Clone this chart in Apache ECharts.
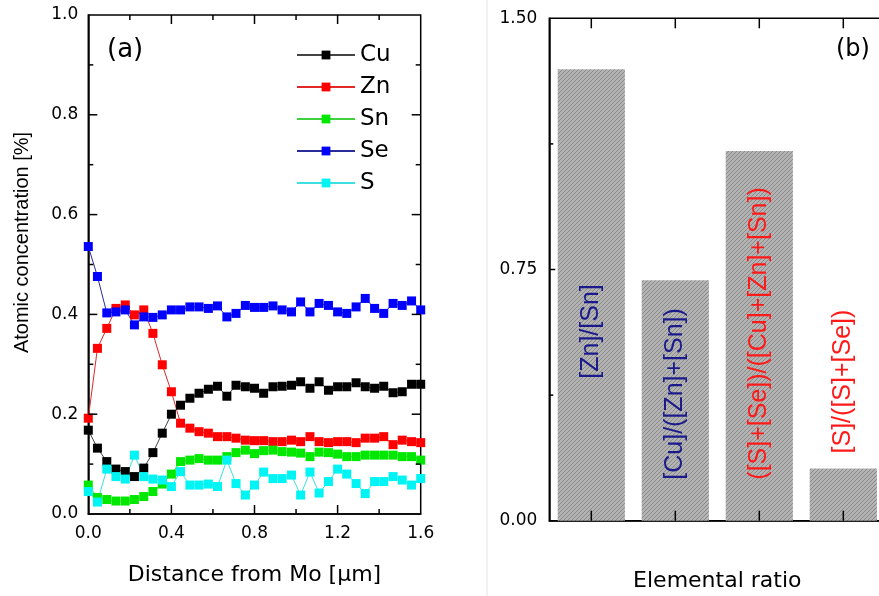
<!DOCTYPE html>
<html><head><meta charset="utf-8">
<script src="https://cdn.jsdelivr.net/npm/echarts@6/dist/echarts.min.js"></script>
<style>html,body{margin:0;padding:0;background:#fff}#c{width:879px;height:596px}</style>
</head><body><div id="c"></div>
<script>
// ---- data (panel a) ----
const distance = [0, 0.044, 0.089, 0.133, 0.178, 0.222, 0.267, 0.311, 0.356, 0.4, 0.444, 0.489, 0.533, 0.578, 0.622, 0.667, 0.711, 0.756, 0.8, 0.844, 0.889, 0.933, 0.978, 1.022, 1.067, 1.111, 1.156, 1.2, 1.244, 1.289, 1.333, 1.378, 1.422, 1.467, 1.511, 1.556, 1.6];
const cu = [0.168, 0.132, 0.105, 0.090, 0.085, 0.075, 0.092, 0.123, 0.162, 0.200, 0.218, 0.232, 0.242, 0.250, 0.256, 0.236, 0.258, 0.255, 0.252, 0.242, 0.255, 0.256, 0.258, 0.265, 0.252, 0.265, 0.248, 0.255, 0.255, 0.263, 0.255, 0.252, 0.256, 0.243, 0.245, 0.260, 0.260];
const zn = [0.192, 0.332, 0.372, 0.412, 0.419, 0.399, 0.409, 0.362, 0.299, 0.245, 0.182, 0.172, 0.165, 0.162, 0.155, 0.155, 0.152, 0.148, 0.147, 0.147, 0.145, 0.145, 0.148, 0.145, 0.155, 0.145, 0.143, 0.145, 0.145, 0.143, 0.152, 0.152, 0.155, 0.139, 0.148, 0.145, 0.143];
const sn = [0.058, 0.033, 0.029, 0.026, 0.026, 0.029, 0.035, 0.045, 0.060, 0.080, 0.105, 0.108, 0.111, 0.108, 0.108, 0.115, 0.123, 0.128, 0.121, 0.127, 0.128, 0.125, 0.124, 0.122, 0.115, 0.124, 0.123, 0.120, 0.115, 0.115, 0.118, 0.118, 0.118, 0.118, 0.115, 0.115, 0.108];
const se = [0.536, 0.476, 0.403, 0.405, 0.409, 0.379, 0.395, 0.394, 0.399, 0.409, 0.409, 0.415, 0.415, 0.412, 0.417, 0.395, 0.402, 0.418, 0.414, 0.414, 0.417, 0.409, 0.405, 0.425, 0.405, 0.422, 0.418, 0.405, 0.402, 0.415, 0.432, 0.412, 0.402, 0.422, 0.418, 0.427, 0.409];
const s = [0.045, 0.024, 0.090, 0.075, 0.070, 0.118, 0.075, 0.070, 0.068, 0.055, 0.085, 0.058, 0.058, 0.060, 0.055, 0.108, 0.061, 0.038, 0.058, 0.084, 0.071, 0.071, 0.078, 0.038, 0.084, 0.042, 0.065, 0.090, 0.080, 0.061, 0.041, 0.065, 0.065, 0.075, 0.068, 0.058, 0.071];
const seriesNames = ['Cu', 'Zn', 'Sn', 'Se', 'S'];
// tick values, panel a
const xMajorA = [0.4, 0.8, 1.2];
const xMinorA = [0.2, 0.6, 1.0, 1.4];
const yMajorA = [0.2, 0.4, 0.6, 0.8];
const yMinorA = [0.1, 0.3, 0.5, 0.7, 0.9];
// ---- data (panel b) ----
const ratioNames = ['[Zn]/[Sn]', '[Cu]/([Zn]+[Sn])', '([S]+[Se])/([Cu]+[Zn]+[Sn])', '[S]/([S]+[Se])'];
const ratioValues = [1.348, 0.718, 1.104, 0.156];
// tick values, panel b
const yMajorB = [0.75];
const yMinorB = [0.375, 1.125];

// ---- styles ----
const H = "'DejaVu Sans', sans-serif";
const V = "'Liberation Sans', Arial, sans-serif";
const markerColors = ['#000000', '#ff0000', '#00e800', '#0000ff', '#00f4f4'];
const lineColors = ['#444444', '#e02a2a', '#3fd03f', '#2b2b9a', '#3ee0e0'];
const ratioLabelColors = ['#1a1a8a', '#1a1a8a', '#ff1a1a', '#ff1a1a'];
const ratioLabelPos = [['insideBottom', 142], ['insideBottom', 41], ['insideBottom', 41], ['top', 15]];

const pat = document.createElement('canvas');
pat.width = 8; pat.height = 8;
const g = pat.getContext('2d');
g.fillStyle = '#b3b3b3'; g.fillRect(0, 0, 8, 8);
g.strokeStyle = '#8a8a8a'; g.lineWidth = 1;
for (let k = -8; k <= 16; k += 4) { g.beginPath(); g.moveTo(k, 8); g.lineTo(k + 8, 0); g.stroke(); }

function mkLine() { return { show: true, onZero: false, lineStyle: { color: '#000', width: 1.5 } }; }

function valueAxis(gridIndex, position, min, max, interval, digits, margin) {
  return {
    type: 'value', gridIndex, position, min, max, interval,
    axisLine: mkLine(), splitLine: { show: false },
    axisTick: { show: false }, minorTick: { show: false },
    axisLabel: { show: true, fontFamily: H, fontSize: 17, color: '#000', margin,
      formatter: v => v.toFixed(digits) }
  };
}

const xA = valueAxis(0, 'bottom', 0, 1.6, 0.4, 1, 11);
Object.assign(xA, { name: 'Distance from Mo [μm]', nameLocation: 'middle', nameGap: 50,
  nameTextStyle: { fontFamily: H, fontSize: 22, color: '#000' } });
const yA = valueAxis(0, 'left', 0, 1, 0.2, 1, 10);
Object.assign(yA, { name: 'Atomic concentration [%]', nameLocation: 'middle', nameGap: 56,
  nameTextStyle: { fontFamily: V, fontSize: 20, color: '#000', padding: [0, 0, 0, 44] } });
const yB = valueAxis(1, 'left', 0, 1.5, 0.75, 2, 12);
const xB = {
  type: 'category', gridIndex: 1, position: 'bottom', data: ratioNames,
  axisLine: mkLine(), splitLine: { show: false },
  axisTick: { show: false }, axisLabel: { show: false },
  name: 'Elemental ratio', nameLocation: 'middle', nameGap: 50,
  nameTextStyle: { fontFamily: H, fontSize: 22, color: '#000' }
};

const TICK = { stroke: '#000', lineWidth: 1.5 };
function seg(p, dx, dy) {
  return { type: 'line', shape: { x1: p[0], y1: p[1], x2: p[0] + dx, y2: p[1] + dy }, style: TICK };
}
// inward ticks drawn through the axes' own scales
function ticksA(params, api) {
  const ch = [];
  const xs = [[xMajorA, 9], [xMinorA, 5]], ys = [[yMajorA, 9], [yMinorA, 5]];
  xs.forEach(([vals, len]) => vals.forEach(v => {
    ch.push(seg(api.coord([v, 0]), 0, -len));
    ch.push(seg(api.coord([v, 1]), 0, len));
  }));
  ys.forEach(([vals, len]) => vals.forEach(v => {
    ch.push(seg(api.coord([0, v]), len, 0));
    ch.push(seg(api.coord([1.6, v]), -len, 0));
  }));
  return { type: 'group', children: ch };
}
function ticksB(params, api) {
  const ch = [];
  ratioNames.forEach((n, i) => {
    ch.push(seg(api.coord([i, 0]), 0, -10));
    ch.push(seg(api.coord([i, 1.5]), 0, 10));
  });
  [[yMajorB, 6], [yMinorB, 4]].forEach(([vals, len]) => vals.forEach(v => {
    const l = api.coord([0, v]);
    const left = l[0] - api.size([1, 0])[0] / 2;
    ch.push(seg([left, l[1]], len, 0));
    ch.push(seg([left + api.size([1, 0])[0] * ratioNames.length, l[1]], -len, 0));
  }));
  return { type: 'group', children: ch };
}

const lineData = [cu, zn, sn, se, s];
const series = lineData.map((vals, k) => ({
  name: seriesNames[k], type: 'line', xAxisIndex: 0, yAxisIndex: 0,
  data: distance.map((x, i) => [x, vals[i]]),
  symbol: 'rect', symbolSize: 9, showSymbol: true,
  itemStyle: { color: markerColors[k] },
  lineStyle: { color: lineColors[k], width: 1 },
  emphasis: { disabled: true }
}));
series.push({
  type: 'bar', xAxisIndex: 1, yAxisIndex: 1, barWidth: '80%',
  data: ratioValues.map((v, i) => ({
    value: v,
    label: { position: ratioLabelPos[i][0], distance: ratioLabelPos[i][1], color: ratioLabelColors[i] }
  })),
  itemStyle: { color: { image: pat, repeat: 'repeat' } },
  label: { show: true, rotate: 90, align: 'left', verticalAlign: 'middle',
    fontFamily: V, fontSize: 25, formatter: p => ratioNames[p.dataIndex] },
  emphasis: { disabled: true }
});
series.push({ type: 'custom', xAxisIndex: 0, yAxisIndex: 0, data: [[0, 0]], renderItem: ticksA,
  clip: false, silent: true, z: 10 });
series.push({ type: 'custom', xAxisIndex: 1, yAxisIndex: 1, data: [[0, 0]], renderItem: ticksB,
  clip: false, silent: true, z: 10 });

const chart = echarts.init(document.getElementById('c'), null, { renderer: 'canvas' });
chart.setOption({
  animation: false,
  backgroundColor: '#fff',
  grid: [
    { left: 88.3, top: 15, width: 332.4, height: 499, outerBoundsMode: 'none',
      show: true, borderColor: '#000', borderWidth: 1.5, backgroundColor: 'transparent' },
    { left: 549.3, top: 18.3, width: 336, height: 502.4, outerBoundsMode: 'none',
      show: true, borderColor: '#000', borderWidth: 1.5, backgroundColor: 'transparent' }
  ],
  xAxis: [xA, xB],
  yAxis: [yA, yB],
  legend: {
    data: seriesNames, orient: 'vertical', left: 291, top: 38.5,
    itemWidth: 58, itemHeight: 11, itemGap: 9,
    textStyle: { fontFamily: H, fontSize: 23, color: '#000' }
  },
  graphic: [
    { type: 'text', left: 107, top: 37, style: { text: '(a)', font: "26px 'DejaVu Sans'", fill: '#000' } },
    { type: 'text', left: 836, top: 38, style: { text: '(b)', font: "24px 'DejaVu Sans'", fill: '#000' } },
    { type: 'line', shape: { x1: 487, y1: 0, x2: 487, y2: 596 }, style: { stroke: '#e4e4e4', lineWidth: 1 }, z: -1 }
  ],
  series
});
</script></body></html>
